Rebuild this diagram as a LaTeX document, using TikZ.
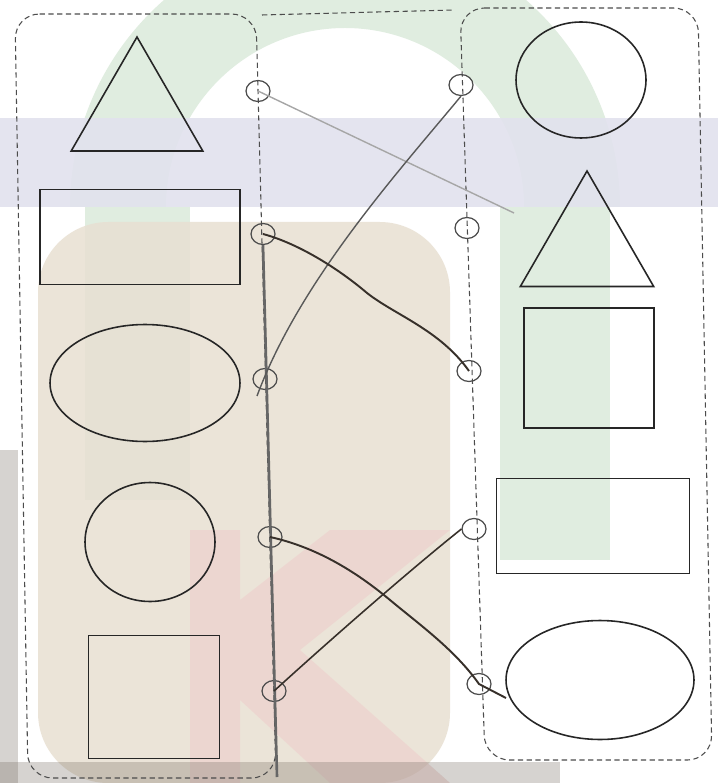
\documentclass[tikz,border=0pt]{standalone}
\usepackage{xcolor}
\usetikzlibrary{shapes.geometric, positioning}

\definecolor{wmblue}{RGB}{226,226,238}
\definecolor{wmgreen}{RGB}{224,237,224}
\definecolor{wmbeige}{RGB}{232,224,210}
\definecolor{wmpink}{RGB}{238,206,204}
\definecolor{wmshadow}{RGB}{120,110,100}
\definecolor{pencil}{RGB}{55,48,42}

\begin{document}
\begin{tikzpicture}[
        x=0.02cm, y=-0.02cm,
        panel/.style={
            draw=black!70,
            densely dashed,
            line width=0.6pt,
            rounded corners=14pt
        },
        figure/.style={
            draw=black!85,
            line width=0.9pt,
            inner sep=0pt,
            outer sep=0pt
        },
        tri/.style={figure, regular polygon, regular polygon sides=3},
        oval/.style={figure, ellipse},
        box/.style={figure, rectangle},
        dot/.style={
            ellipse,
            draw=black!70,
            line width=0.7pt,
            minimum width=0.48cm,
            minimum height=0.42cm,
            inner sep=0pt
        },
        link/.style={draw=pencil, line width=1.1pt},
        faint/.style={draw=black!35, line width=0.8pt}
    ]

    \useasboundingbox [fill=white] (0,0) rectangle (718,783);

    % watermark behind the sheet
    \begin{scope}
        \clip (0,0) rectangle (718,207);
        \fill [wmgreen, even odd rule] (345,207) circle [radius=275] (345,207) circle [radius=179];
    \end{scope}
    \fill [wmgreen] (85,207) rectangle (190,500);
    \fill [wmgreen] (500,207) rectangle (610,560);
    \fill [wmblue, opacity=0.9] (0,118) rectangle (718,207);
    \fill [wmbeige, opacity=0.85, rounded corners=40pt] (38,222) rectangle (450,783);
    \fill [wmpink, opacity=0.6] (190,530) -- (240,530) -- (240,600) -- (330,530) -- (450,530)
        -- (300,650) -- (450,783) -- (330,783) -- (240,700) -- (240,783) -- (190,783) -- cycle;
    \fill [wmshadow, opacity=0.3] (0,450) rectangle (18,783);
    \fill [wmshadow, opacity=0.3] (0,762) rectangle (560,783);

    % panels
    \draw [panel] (15,14) -- (256,14) -- (276,778) -- (28,778) -- cycle;
    \draw [panel] (460,8) -- (698,8) -- (712,760) -- (485,760) -- cycle;
    \draw [panel, rounded corners=0pt] (262,15) -- (454,10);

    % left column
    \node (triL)  [tri, minimum size=3.04cm] at (137,113) {};
    \node (boxL)  [box, minimum width=4cm, minimum height=1.9cm] at (140,237) {};
    \node (ovalL) [oval, minimum width=3.8cm, minimum height=2.34cm] at (145,383) {};
    \node (ringL) [oval, minimum width=2.6cm, minimum height=2.38cm] at (150,542) {};
    \node (sqL)   [box, minimum width=2.62cm, minimum height=2.46cm] at (154,697) {};

    % right column
    \node (ringR) [oval, minimum width=2.6cm, minimum height=2.32cm] at (581,80) {};
    \node (triR)  [tri, minimum size=3.08cm] at (587,248) {};
    \node (sqR)   [box, minimum width=2.6cm, minimum height=2.4cm] at (589,368) {};
    \node (boxR)  [box, minimum width=3.86cm, minimum height=1.9cm] at (593,526) {};
    \node (ovalR) [oval, minimum width=3.76cm, minimum height=2.38cm] at (600,680) {};

    % answer dots
    \node (dL1) [dot] at (258,91) {};
    \node (dL2) [dot] at (263,234) {};
    \node (dL3) [dot] at (265,379) {};
    \node (dL4) [dot] at (270,537) {};
    \node (dL5) [dot] at (274,691) {};

    \node (dR1) [dot] at (461,85) {};
    \node (dR2) [dot] at (467,228) {};
    \node (dR3) [dot] at (469,371) {};
    \node (dR4) [dot] at (474,529) {};
    \node (dR5) [dot] at (479,684) {};

    \coordinate (grayEnd) at (514,213);
    \coordinate (tailL3)  at (257,396);
    \coordinate (tailR5)  at (506,698);

    % pencil lines
    \draw [draw=black!60, line width=1.5pt] (dL2.south) -- (277,777);
    \draw [faint] (dL1.center) -- (grayEnd);
    \draw [link, line width=0.8pt, draw=black!65] (dR1.south)
        .. controls (400,170) and (300,280) .. (tailL3);
    \draw [link] (dL2.center) .. controls (300,244) and (340,270) .. (367,293)
        .. controls (395,315) and (440,330) .. (dR3.center);
    \draw [link] (dL4.center) .. controls (320,548) and (360,575) .. (390,600)
        .. controls (420,625) and (455,650) .. (dR5.center) -- (tailR5);
    \draw [link, line width=0.9pt] (dL5.center) .. controls (330,640) and (410,570) .. (dR4.west);

\end{tikzpicture}
\end{document}
